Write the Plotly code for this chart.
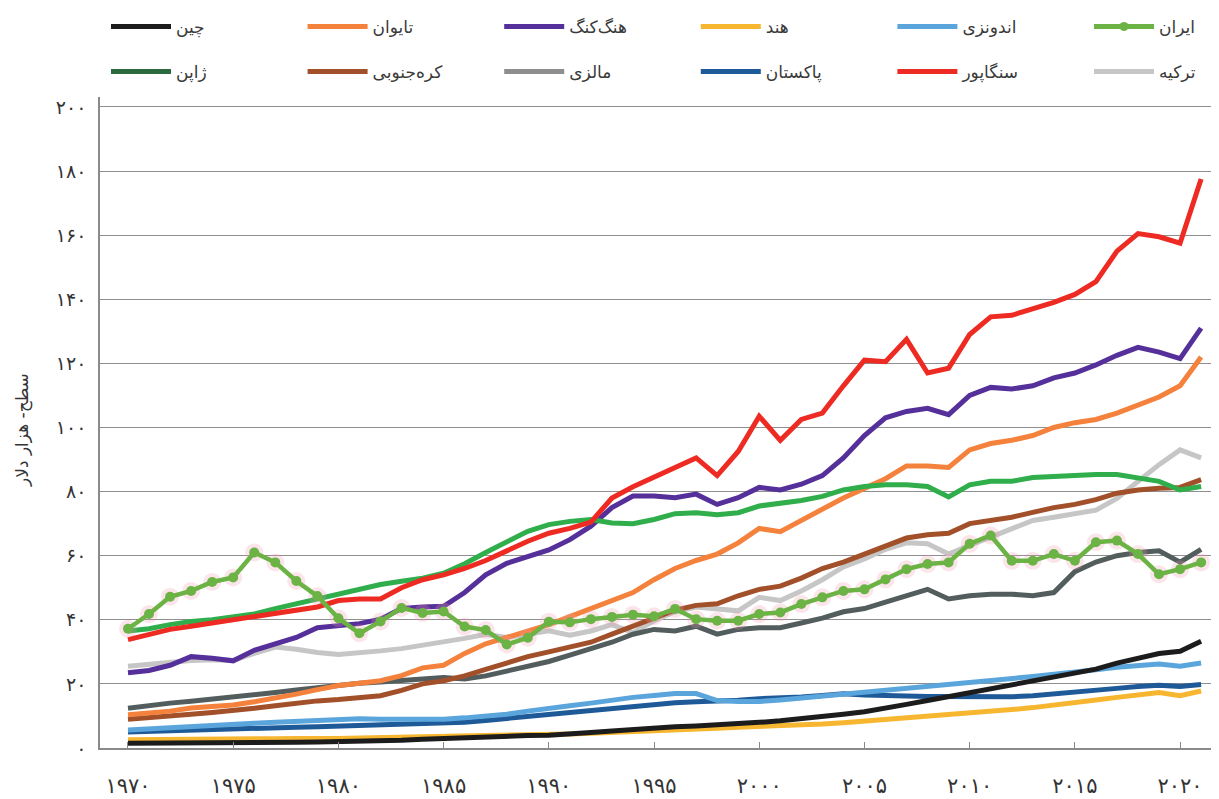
import plotly.graph_objects as go

FONT = "DejaVu Sans"
PERSIAN_DIGITS = str.maketrans("0123456789", "۰۱۲۳۴۵۶۷۸۹")

# the page adds an 8 px body margin, so the figure is drawn 8 px smaller
# and every pixel target below is measured in the 1219 x 799 window
PAGE_PAD = 8
FIG_W, FIG_H = 1219 - PAGE_PAD, 799 - PAGE_PAD
PLOT_LEFT, PLOT_TOP, PLOT_BOTTOM = 100, 97, 748

years = list(range(1970, 2022))

china = [1.5, 1.5, 1.5, 1.6, 1.6, 1.7, 1.6, 1.7, 1.8, 1.9, 2.0, 2.0, 2.2, 2.4, 2.7, 3.0, 3.2, 3.5,
         3.8, 3.9, 4.0, 4.3, 4.8, 5.3, 5.8, 6.2, 6.6, 6.9, 7.2, 7.6, 8.0, 8.5, 9.1, 9.8, 10.5, 11.3,
         12.3, 13.6, 14.8, 16.0, 17.3, 18.6, 19.8, 21.0, 22.1, 23.3, 24.6, 26.5, 28.0, 29.5, 30.2, 33.3]
taiwan = [10.4, 10.8, 11.5, 12.5, 12.9, 13.4, 14.4, 15.5, 16.8, 18.2, 19.5, 20.2, 21.0, 22.6, 25.0,
          25.8, 29.5, 32.5, 34.5, 36.5, 38.5, 41.0, 43.5, 46.0, 48.5, 52.5, 56.0, 58.5, 60.5, 64.0,
          68.5, 67.5, 71.0, 74.5, 78.0, 81.0, 84.0, 88.0, 88.0, 87.5, 93.0, 95.0, 96.0, 97.5, 100.0,
          101.5, 102.5, 104.5, 107.0, 109.5, 113.0, 122.0]
hong_kong = [23.5, 24.2, 25.8, 28.5, 28.0, 27.2, 30.5, 32.3, 34.5, 37.5, 38.2, 38.8, 40.2, 43.5, 44.0,
             44.2, 48.5, 54.0, 57.6, 59.7, 61.8, 65.0, 69.2, 75.0, 78.6, 78.6, 78.1, 79.2, 76.0, 78.1,
             81.3, 80.5, 82.3, 85.0, 90.5, 97.5, 103.0, 105.0, 106.0, 104.0, 110.0, 112.5, 112.0,
             113.0, 115.5, 117.0, 119.5, 122.5, 125.0, 123.5, 121.5, 131.0]
india = [2.6, 2.6, 2.6, 2.7, 2.7, 2.8, 2.8, 2.9, 3.0, 2.9, 3.0, 3.1, 3.2, 3.3, 3.4, 3.5, 3.6, 3.7,
         3.9, 4.1, 4.3, 4.4, 4.6, 4.8, 5.1, 5.4, 5.7, 5.9, 6.2, 6.5, 6.7, 6.9, 7.1, 7.5, 7.9, 8.4,
         8.9, 9.4, 9.7, 10.2, 10.8, 11.4, 12.0, 12.6, 13.3, 14.1, 15.0, 15.8, 16.6, 17.3, 16.3, 17.8]
indonesia = [5.6, 6.0, 6.4, 6.8, 7.1, 7.4, 7.7, 8.0, 8.3, 8.6, 8.9, 9.1, 9.0, 8.9, 9.0, 9.0, 9.4,
             9.9, 10.5, 11.5, 12.5, 13.2, 14.0, 15.0, 15.8, 16.4, 17.0, 17.0, 14.8, 14.5, 14.5, 15.0,
             15.6, 16.3, 16.8, 17.4, 17.8, 18.5, 19.2, 19.6, 20.2, 21.0, 21.6, 22.3, 23.0, 23.6, 24.4,
             25.2, 25.8, 26.2, 25.5, 26.5]
iran = [37.2, 41.8, 47.2, 49.0, 51.8, 53.2, 61.0, 57.9, 52.1, 47.4, 40.5, 35.8, 39.5, 43.7, 42.1,
        42.6, 37.9, 36.8, 32.3, 34.4, 39.4, 39.2, 40.2, 40.9, 41.6, 41.1, 43.4, 40.2, 39.7, 39.7,
        41.8, 42.3, 44.9, 47.0, 49.0, 49.5, 52.6, 55.8, 57.4, 57.9, 63.7, 66.3, 58.4, 58.4, 60.5,
        58.4, 64.2, 64.7, 60.5, 54.2, 55.8, 57.9]
japan = [36.5, 37.2, 38.5, 39.5, 40.0, 40.8, 41.8, 43.5, 45.0, 46.5, 47.9, 49.5, 51.0, 52.0, 53.0,
         54.5, 57.5, 61.0, 64.5, 67.6, 69.7, 70.7, 71.3, 70.2, 70.0, 71.3, 73.1, 73.4, 72.8, 73.4,
         75.5, 76.3, 77.2, 78.5, 80.5, 81.6, 82.1, 82.1, 81.6, 78.3, 82.1, 83.2, 83.2, 84.4, 84.7,
         85.1, 85.3, 85.3, 84.2, 83.2, 80.5, 81.6]
south_korea = [9.0, 9.4, 9.9, 10.5, 11.1, 11.6, 12.4, 13.2, 14.0, 14.7, 15.1, 15.6, 16.3, 18.0,
               20.0, 21.0, 22.5, 24.5, 26.5, 28.5, 30.0, 31.5, 33.0, 35.5, 38.0, 40.5, 43.0, 44.5,
               45.0, 47.5, 49.5, 50.5, 53.0, 56.0, 58.0, 60.5, 63.0, 65.5, 66.5, 67.0, 70.0, 71.0,
               72.0, 73.5, 75.0, 76.0, 77.5, 79.5, 80.5, 81.0, 81.3, 83.7]
malaysia = [12.4, 13.3, 14.0, 14.6, 15.2, 15.8, 16.6, 17.3, 18.1, 18.9, 19.7, 20.2, 20.6, 21.0,
            21.5, 22.0, 21.5, 22.5, 24.0, 25.5, 27.0, 29.0, 31.0, 33.0, 35.5, 37.0, 36.5, 38.0,
            35.5, 37.0, 37.5, 37.5, 39.0, 40.5, 42.5, 43.5, 45.5, 47.5, 49.5, 46.5, 47.5, 48.0,
            48.0, 47.5, 48.5, 55.0, 58.0, 60.0, 61.0, 61.5, 58.0, 62.0]
pakistan = [5.0, 5.2, 5.4, 5.6, 5.9, 6.2, 6.3, 6.4, 6.5, 6.6, 6.8, 7.0, 7.1, 7.2, 7.3, 7.5, 8.0,
            8.6, 9.2, 9.9, 10.6, 11.1, 11.7, 12.3, 12.9, 13.7, 14.1, 14.4, 14.6, 14.9, 15.4, 15.6,
            15.9, 16.4, 16.9, 16.5, 16.2, 16.2, 16.1, 16.0, 16.0, 16.0, 16.0, 16.3, 16.8, 17.4,
            18.0, 18.6, 19.2, 19.6, 19.2, 19.8]
singapore = [33.8, 35.5, 37.0, 38.0, 39.0, 39.8, 40.8, 41.8, 43.0, 44.0, 46.0, 46.5, 46.5, 50.0,
             52.5, 54.0, 56.0, 58.5, 61.5, 64.5, 67.0, 68.5, 70.5, 78.0, 81.5, 84.5, 87.5, 90.5,
             85.0, 92.5, 103.5, 96.0, 102.5, 104.5, 113.0, 121.0, 120.5, 127.5, 117.0, 118.5, 129.0,
             134.5, 135.0, 137.0, 139.0, 141.5, 145.5, 155.0, 160.5, 159.5, 157.5, 177.5]
turkey = [25.5, 26.1, 26.8, 27.3, 27.5, 27.3, 29.5, 31.5, 30.8, 29.8, 29.2, 29.6, 30.3, 31.0, 32.0,
          33.0, 34.2, 35.5, 34.5, 35.5, 36.6, 35.2, 36.5, 38.5, 36.0, 39.7, 42.5, 44.0, 43.5, 42.8,
          47.0, 46.0, 49.0, 52.5, 56.5, 59.0, 62.0, 64.0, 63.7, 60.5, 63.2, 65.8, 68.5, 71.0, 72.0,
          73.2, 74.2, 77.9, 83.0, 88.4, 93.0, 90.5]

# (name, values, line colour, legend colour, legend row)
series = [
    ("چین", china, "#1c1c1c", "#1c1c1c", 0),
    ("تایوان", taiwan, "#f4823d", "#f4823d", 0),
    ("هنگ‌کنگ", hong_kong, "#56309a", "#56309a", 0),
    ("هند", india, "#f6b630", "#f6b630", 0),
    ("اندونزی", indonesia, "#5aa6dc", "#5aa6dc", 0),
    ("ایران", iran, "#6cb345", "#6cb345", 0),
    ("ژاپن", japan, "#2fae4b", "#2b6a3f", 1),
    ("کره‌جنوبی", south_korea, "#a2502a", "#a2502a", 1),
    ("مالزی", malaysia, "#535d5d", "#8e8e8e", 1),
    ("پاکستان", pakistan, "#1f5a98", "#1f5a98", 1),
    ("سنگاپور", singapore, "#ee2b22", "#ee2b22", 1),
    ("ترکیه", turkey, "#c6c6c6", "#c6c6c6", 1),
]

draw_order = ["ترکیه", "مالزی", "کره‌جنوبی", "تایوان", "پاکستان", "اندونزی", "هند", "چین",
              "هنگ‌کنگ", "ژاپن", "سنگاپور", "ایران"]

fig = go.Figure()

by_name = {s[0]: s for s in series}
for name in draw_order:
    _, values, color, _, _ = by_name[name]
    if name == "ایران":
        # soft pink halo around the Iran markers
        fig.add_trace(go.Scatter(
            x=years, y=values, mode="markers",
            marker=dict(size=18, color="rgba(240,150,170,0.25)"),
            hoverinfo="skip", showlegend=False,
        ))
        fig.add_trace(go.Scatter(
            x=years, y=values, mode="lines+markers", name=name,
            line=dict(color=color, width=4.5),
            marker=dict(size=10, color=color),
            showlegend=False,
        ))
    else:
        fig.add_trace(go.Scatter(
            x=years, y=values, mode="lines", name=name,
            line=dict(color=color, width=5),
            showlegend=False,
        ))

# one small legend per entry so the 6 x 2 grid is evenly spaced
legends = {}
row_y = [27, 72]
col_step = 196.6
per_row = [0, 0]
for name, _, _, legend_color, row in series:
    col = per_row[row]
    per_row[row] += 1
    key = "legend" if not legends else f"legend{len(legends) + 1}"
    legends[key] = dict(
        xref="container", yref="container",
        xanchor="left", yanchor="middle",
        x=(106 + col_step * col - PAGE_PAD) / FIG_W,
        y=1 - (row_y[row] - PAGE_PAD) / FIG_H,
        itemwidth=60,
        font=dict(family=FONT, size=17, color="#3a3a3a"),
        bgcolor="rgba(0,0,0,0)",
    )
    fig.add_trace(go.Scatter(
        x=[None], y=[None], name=name,
        mode="lines+markers" if name == "ایران" else "lines",
        line=dict(color=legend_color, width=5),
        marker=dict(size=9, color=legend_color),
        legend=key,
    ))

y_ticks = list(range(0, 201, 20))
x_ticks = list(range(1970, 2021, 5))

plot_w = 1219 - PLOT_LEFT
plot_h = PLOT_BOTTOM - PLOT_TOP

fig.update_layout(
    width=FIG_W, height=FIG_H,
    margin=dict(l=PLOT_LEFT - PAGE_PAD, r=0, t=PLOT_TOP - PAGE_PAD, b=799 - PLOT_BOTTOM,
                autoexpand=False),
    paper_bgcolor="white", plot_bgcolor="white",
    font=dict(family=FONT, color="#333333"),
    xaxis=dict(
        range=[1968.67, 2021.85],
        tickvals=x_ticks,
        ticktext=[str(v).translate(PERSIAN_DIGITS) for v in x_ticks],
        tickfont=dict(size=21, color="#333333"),
        ticks="inside", ticklen=6, tickcolor="#8a8a8a", tickwidth=1.2,
        ticklabelstandoff=18,
        showline=True, linecolor="#8a8a8a", linewidth=1.5,
        showgrid=False, zeroline=False, automargin=False,
    ),
    yaxis=dict(
        range=[0, 203.1],
        tickvals=y_ticks,
        ticktext=[str(v).translate(PERSIAN_DIGITS) for v in y_ticks],
        tickfont=dict(size=19, color="#333333"),
        ticklabelstandoff=8,
        showline=True, linecolor="#8a8a8a", linewidth=1.5,
        showgrid=True, gridcolor="#8f8f8f", gridwidth=1.2,
        zeroline=False, automargin=False,
    ),
    annotations=[dict(
        text="سطح- هزار دلار",
        xref="paper", yref="paper",
        x=(22 - PLOT_LEFT) / plot_w, y=(PLOT_BOTTOM - 430) / plot_h,
        xanchor="center", yanchor="middle",
        textangle=-90, showarrow=False,
        font=dict(family=FONT, size=17, color="#333333"),
    )],
    **legends,
)

fig.write_html("out.html")
